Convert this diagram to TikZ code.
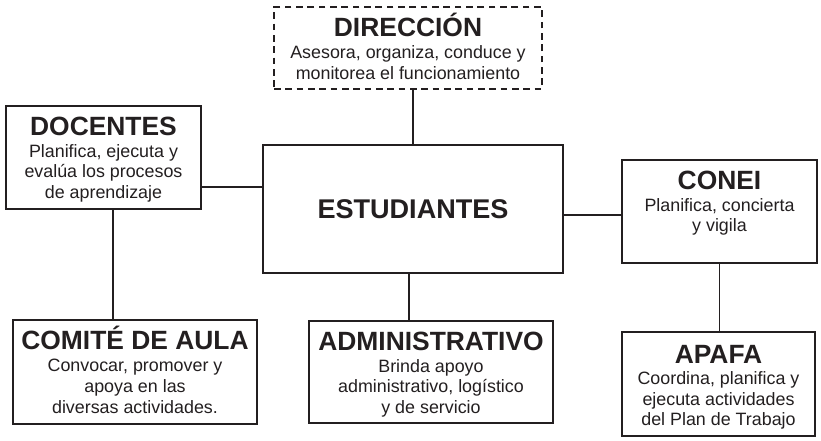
\documentclass[tikz,border=0pt]{standalone}
\usepackage{fontspec}
\setmainfont{Liberation Sans}
\usetikzlibrary{positioning,calc}
\definecolor{ocink}{HTML}{231F20}
\newcommand{\octitle}{\fontsize{19.8}{22}\selectfont\bfseries\rule{0pt}{19pt}}
\newcommand{\ocbody}{\fontsize{13.4}{15.5}\selectfont}
\tikzset{
  ocbox/.style={draw=ocink, line width=1.5pt, fill=white, inner sep=0pt, text=ocink},
  ocdashbox/.style={ocbox, dash pattern=on 5pt off 3.5pt},
  octext/.style={anchor=north, align=center, inner sep=0pt, text=ocink, font=\ocbody},
  oclink/.style={draw=ocink, line width=0.8pt},
}
\begin{document}
\begin{tikzpicture}[x=0.75pt, y=-0.75pt]
  \useasboundingbox (0,0) rectangle (821,440);
  % the seven boxes of the chart
  \node[ocdashbox, minimum width=201pt, minimum height=61.5pt] (dir) at (408,48) {};
  \node[ocbox, minimum width=146.25pt, minimum height=77.25pt] (doc) at (103.5,157.5) {};
  \node[ocbox, minimum width=225pt, minimum height=96pt] (est) at (413,209)
    {\fontsize{20.3}{24}\selectfont\bfseries ESTUDIANTES};
  \node[ocbox, minimum width=146.25pt, minimum height=77.25pt] (conei) at (719.5,211.5) {};
  \node[ocbox, minimum width=183pt, minimum height=78pt] (comite) at (135,372) {};
  \node[ocbox, minimum width=183pt, minimum height=76.5pt] (admin) at (431,372) {};
  \node[ocbox, minimum width=144.75pt, minimum height=78pt] (apafa) at (718.5,384) {};
  % texts, hung from the top of each box
  \node[octext] (dirtext) at ([yshift=-4pt]dir.north)
    {{\octitle DIRECCIÓN}\\[1pt] Asesora, organiza, conduce y\\ monitorea el funcionamiento};
  \node[octext] (doctext) at ([yshift=-4pt]doc.north)
    {{\octitle DOCENTES}\\[0.5pt] Planifica, ejecuta y\\ evalúa los procesos\\ de aprendizaje};
  \node[octext] (coneitext) at ([yshift=-4pt]conei.north)
    {{\octitle CONEI}\\[0.5pt] Planifica, concierta\\ y vigila};
  \node[octext] (comitetext) at ([yshift=-4pt]comite.north)
    {{\octitle COMITÉ DE AULA}\\[1pt] Convocar, promover y\\ apoya en las\\ diversas actividades.};
  \node[octext] (admintext) at ([yshift=-4pt]admin.north)
    {{\octitle ADMINISTRATIVO}\\[0.5pt] Brinda apoyo\\ administrativo, logístico\\ y de servicio};
  \node[octext] (apafatext) at ([yshift=-5pt]apafa.north)
    {{\octitle APAFA}\\[0.5pt] Coordina, planifica y\\ ejecuta actividades\\ del Plan de Trabajo};
  % connectors
  \draw[oclink] (est.north) -- (est.north |- dir.south);
  \draw[oclink] (doc.east |- 0,187) -- (est.west |- 0,187);
  \draw[oclink] (est.east |- 0,215) -- (conei.west |- 0,215);
  \draw[oclink] (doc.south -| 113,0) -- (comite.north -| 113,0);
  \draw[oclink] (est.south -| 409,0) -- (admin.north -| 409,0);
  \draw[oclink] (conei.south) -- (conei.south |- apafa.north);
\end{tikzpicture}
\end{document}
